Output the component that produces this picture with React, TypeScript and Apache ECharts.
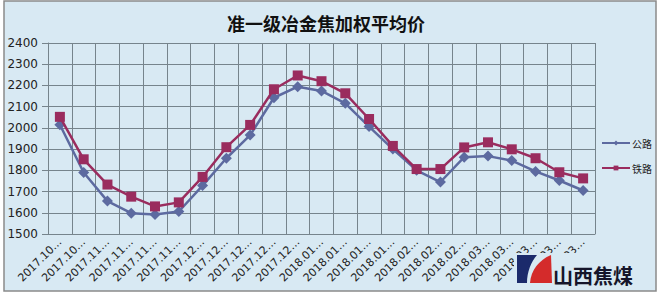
import React, { useEffect, useRef } from "react";
import * as echarts from "echarts";

const categories = [
  "2017.10…", "2017.10…",
  "2017.11…", "2017.11…", "2017.11…", "2017.11…",
  "2017.12…", "2017.12…", "2017.12…", "2017.12…", "2017.12…",
  "2018.01…", "2018.01…", "2018.01…", "2018.01…",
  "2018.02…", "2018.02…", "2018.02…",
  "2018.03…", "2018.03…", "2018.03…", "2018.03…", "2018.03…",
];

const highway = [2015, 1790, 1655, 1598, 1592, 1606, 1728, 1857, 1966, 2142, 2194, 2174, 2116, 2006, 1900, 1800, 1745, 1862, 1867, 1846, 1795, 1752, 1705];
const railway = [2052, 1852, 1733, 1676, 1630, 1649, 1769, 1909, 2014, 2182, 2247, 2220, 2163, 2042, 1915, 1806, 1806, 1908, 1932, 1899, 1857, 1791, 1762];

const seriesNames = ["公路", "铁路"];
const titleText = "准一级冶金焦加权平均价";
const logoText = "山西焦煤";

const navyPath = "M0 0 L20 0 C14 7 10 17 10 28 L0 28 Z";
const redPath = "M34 0 L35 28 L13 28 C14 15 22 5 34 0 Z";

let registered = false;
function registerShapes() {
  if (registered) return;
  echarts.graphic.registerShape("logoNavy", echarts.graphic.extendPath(navyPath, {}) as any);
  echarts.graphic.registerShape("logoRed", echarts.graphic.extendPath(redPath, {}) as any);
  registered = true;
}

export default function App() {
  const ref = useRef<HTMLDivElement>(null);
  useEffect(() => {
    if (!ref.current) return;
    registerShapes();
    const chart = echarts.init(ref.current, null, { renderer: "svg" });
    const bg = "#d8e9f3";
    const grid = "#76848c";
    chart.setOption({
      animation: false,
      backgroundColor: "#ffffff",
      title: {
        text: titleText,
        left: 222,
        top: 9,
        textStyle: { fontFamily: "Noto Sans CJK SC", fontWeight: "bold", fontSize: 18, color: "#111" },
      },
      legend: {
        orient: "vertical",
        left: 601,
        top: 138,
        padding: 0,
        itemWidth: 28,
        itemHeight: 6,
        itemGap: 15,
        textStyle: { fontFamily: "Noto Sans CJK SC", fontSize: 10, color: "#222", padding: [0, 0, 0, -3] },
        data: seriesNames,
      },
      grid: { left: 48, right: 64, top: 43, bottom: 59, containLabel: false },
      xAxis: {
        type: "category",
        data: categories,
        boundaryGap: true,
        axisLine: { show: true, lineStyle: { color: grid, width: 1 } },
        axisTick: { show: false },
        splitLine: { show: true, lineStyle: { color: grid, width: 1 } },
        axisLabel: {
          rotate: 45,
          interval: 0,
          margin: 6,
          fontSize: 11,
          fontFamily: "DejaVu Sans",
          color: "#222",
        },
      },
      yAxis: {
        type: "value",
        min: 1500,
        max: 2400,
        interval: 100,
        axisLine: { show: true, lineStyle: { color: grid, width: 1 } },
        axisTick: { show: true, length: 6, lineStyle: { color: grid } },
        splitLine: { show: true, lineStyle: { color: grid, width: 1 } },
        axisLabel: {
          margin: 10,
          fontSize: 12,
          fontFamily: "DejaVu Sans",
          color: "#222",
          formatter: (v: number) => String(v),
        },
      },
      series: [
        {
          name: seriesNames[0],
          type: "line",
          data: highway,
          symbol: "diamond",
          symbolSize: 11,
          lineStyle: { color: "#5d6aa0", width: 2.5 },
          itemStyle: { color: "#5d6aa0" },
          z: 3,
        },
        {
          name: seriesNames[1],
          type: "line",
          data: railway,
          symbol: "rect",
          symbolSize: 10,
          lineStyle: { color: "#9a2c5e", width: 2.5 },
          itemStyle: { color: "#9a2c5e" },
          z: 4,
        },
      ],
      graphic: [
        {
          type: "rect",
          z: -10,
          silent: true,
          shape: { x: 4, y: 1, width: 652, height: 290 },
          style: { fill: bg, stroke: "#8a8a8a", lineWidth: 1.5 },
        },
        {
          type: "rect",
          z: 100,
          shape: { x: 514, y: 253, width: 130, height: 34 },
          style: { fill: bg },
        },
        {
          type: "logoNavy",
          z: 101,
          x: 517,
          y: 255,
          style: { fill: "#1b2a6b" },
        },
        {
          type: "logoRed",
          z: 101,
          x: 517,
          y: 255,
          style: { fill: "#d42b2b" },
        },
        {
          type: "text",
          z: 101,
          x: 553,
          y: 275,
          style: {
            text: logoText,
            fontFamily: "Noto Sans CJK SC",
            fontWeight: "bold",
            fontSize: 20,
            fill: "#15152a",
            verticalAlign: "middle",
          },
        },
      ],
    });
    return () => chart.dispose();
  }, []);
  return (
    <div
      ref={ref}
      style={{ position: "absolute", left: 0, top: 0, width: 659, height: 293 }}
    />
  );
}
